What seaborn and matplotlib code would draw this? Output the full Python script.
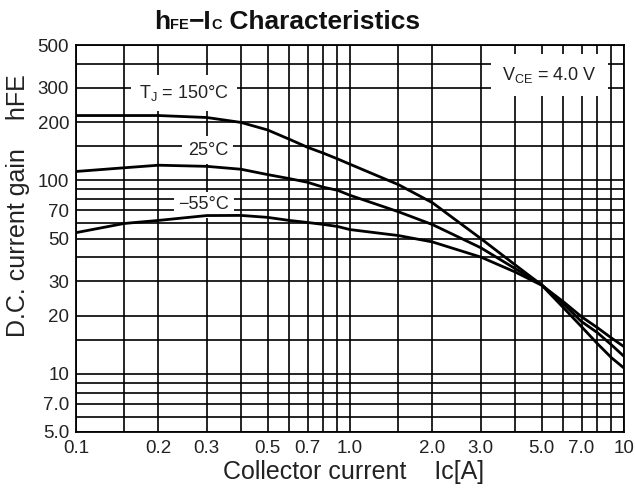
import matplotlib
matplotlib.use("Agg")
import matplotlib.pyplot as plt
import seaborn as sns
import pandas as pd
from matplotlib.offsetbox import TextArea, HPacker, AnchoredOffsetbox
from matplotlib.ticker import FixedLocator, NullFormatter

# collector current [A]
ic = [0.1, 0.15, 0.2, 0.3, 0.4, 0.5, 0.6, 0.7, 0.8, 0.9, 1.0,
      1.5, 2.0, 3.0, 4.0, 5.0, 6.0, 7.0, 8.0, 9.0, 10.0]
# DC current gain per junction temperature
hfe_150 = [216, 216, 216, 211, 199, 182, 163, 148, 138, 129, 121,
           95, 76.5, 50, 36.6, 28.8, 22.0, 17.5, 14.3, 12.1, 10.7]
hfe_25 = [111, 116, 119.6, 118, 114, 107, 102, 97.6, 92, 88.8, 83.6,
          68.8, 59.0, 44.8, 35.0, 28.9, 23.0, 18.6, 16.3, 14.1, 12.3]
hfe_m55 = [53.6, 59.8, 62.0, 65.7, 65.8, 64.3, 62.0, 60.5, 59.1, 57.7, 55.6,
           51.8, 48.0, 40.1, 33.6, 28.7, 23.6, 19.7, 17.3, 15.3, 13.8]

x_ticks = [0.1, 0.2, 0.3, 0.5, 0.7, 1.0, 2.0, 3.0, 5.0, 7.0, 10]
x_ticklabels = ["0.1", "0.2", "0.3", "0.5", "0.7", "1.0", "2.0", "3.0", "5.0", "7.0", "10"]
x_grid = [0.1, 0.15, 0.2, 0.3, 0.4, 0.5, 0.6, 0.7, 0.8, 0.9,
          1.0, 1.5, 2, 3, 4, 5, 6, 7, 8, 9, 10]
y_ticks = [5, 7, 10, 20, 30, 50, 70, 100, 200, 300, 500]
y_ticklabels = ["5.0", "7.0", "10", "20", "30", "50", "70", "100", "200", "300", "500"]
y_grid = [5, 6, 7, 8, 9, 10, 15, 20, 30, 40, 50, 60, 70, 80, 90,
          100, 150, 200, 300, 400, 500]

df = pd.DataFrame({
    "Ic": ic * 3,
    "hFE": hfe_150 + hfe_25 + hfe_m55,
    "Tj": ["150"] * len(ic) + ["25"] * len(ic) + ["-55"] * len(ic),
})

sns.set_style("white")
SANS = ["Liberation Sans", "DejaVu Sans"]
plt.rcParams["font.family"] = SANS

fig = plt.figure(figsize=(6.35, 5.0), dpi=100)
ax = fig.add_axes([76 / 635, 1 - 432 / 500, (624 - 76) / 635, (432 - 45) / 500])

sns.lineplot(data=df, x="Ic", y="hFE", hue="Tj", palette=["black"] * 3,
             linewidth=2.0, legend=False, ax=ax, zorder=5)

ax.set_xscale("log")
ax.set_yscale("log")
ax.set_xlim(0.1, 10)
ax.set_ylim(5, 500)

ax.xaxis.set_major_locator(FixedLocator(x_ticks))
ax.set_xticklabels(x_ticklabels)
ax.xaxis.set_minor_locator(FixedLocator(x_grid))
ax.xaxis.set_minor_formatter(NullFormatter())
ax.yaxis.set_major_locator(FixedLocator(y_ticks))
ax.set_yticklabels(y_ticklabels)
ax.yaxis.set_minor_locator(FixedLocator(y_grid))
ax.yaxis.set_minor_formatter(NullFormatter())

ax.grid(True, which="both", color="black", linewidth=1.2)
ax.set_axisbelow(True)
ax.tick_params(which="both", length=0)
ax.tick_params(axis="x", pad=6)
ax.tick_params(axis="y", pad=5)
for lab in ax.get_xticklabels() + ax.get_yticklabels():
    lab.set_fontsize(13.5)
    lab.set_color("#222222")
for sp in ax.spines.values():
    sp.set_color("black")
    sp.set_linewidth(1.3)

ax.set_xlabel("")
ax.set_ylabel("")
fig.text(354 / 635, 1 - 472 / 500, "Collector current    Ic[A]", ha="center", va="center",
         fontsize=18, color="#222222")
fig.text(18 / 635, 1 - 206 / 500, "D.C. current gain    hFE", ha="center", va="center",
         rotation=90, fontsize=18, color="#222222")

# curve labels with white boxes over the grid
lbl = dict(fontsize=13, ha="center", va="center", color="#222222", zorder=4)
ax.text(0.248, 282, r"T$_\mathregular{J}$ = 150°C",
        bbox=dict(boxstyle="square,pad=0.45", fc="white", ec="none"), **lbl)
ax.text(0.303, 143, "25°C",
        bbox=dict(boxstyle="square,pad=0.3", fc="white", ec="none"), **lbl)
ax.text(0.293, 74.5, "\u221255°C",
        bbox=dict(boxstyle="square,pad=0.25", fc="white", ec="none"), **lbl)
ax.text(5.35, 350, r"V$_\mathregular{CE}$ = 4.0 V",
        bbox=dict(boxstyle="square,pad=0.6", fc="white", ec="none"), **lbl)

# title with small-caps subscripts on the baseline
big = dict(fontsize=19, fontweight="bold", color="#111111", family=SANS)
small = dict(fontsize=10.5, fontweight="bold", color="#111111", family=SANS)
parts = [TextArea("h", textprops=big), TextArea("FE", textprops=small),
         TextArea("\u2212I", textprops=big), TextArea("C", textprops=small),
         TextArea(" Characteristics", textprops=big)]
title = HPacker(children=parts, align="baseline", pad=0, sep=0)
anch = AnchoredOffsetbox(loc="center", child=title, pad=0, borderpad=0, frameon=False,
                         bbox_to_anchor=(287 / 635, 1 - 22 / 500),
                         bbox_transform=fig.transFigure)
fig.add_artist(anch)

fig.savefig("out.png", dpi=100, facecolor="white")
